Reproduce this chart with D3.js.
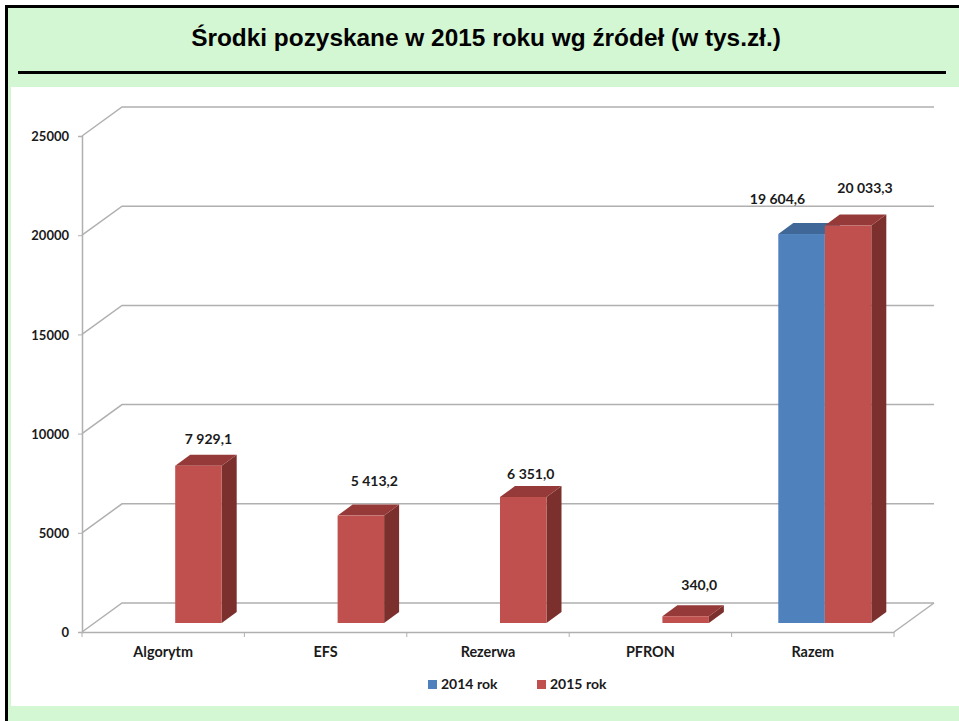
<!DOCTYPE html>
<html lang="pl">
<head>
<meta charset="utf-8">
<script src="https://cdn.jsdelivr.net/npm/d3@7/dist/d3.min.js"></script>
<style>
html,body{margin:0;padding:0;background:#fff;overflow:hidden}
svg{display:block}
.lbl{font-family:Lato,"Open Sans",sans-serif;font-weight:700;font-size:14px;fill:#1a1a1a}
.tickl{font-size:13px}
.catl{font-size:14.4px}
.title{font-family:"Liberation Sans",Arial,sans-serif;font-weight:700;font-size:24.4px;fill:#000}
</style>
</head>
<body>
<svg id="c" width="959" height="721"></svg>
<script>
const titleText = "Środki pozyskane w 2015 roku wg źródeł (w tys.zł.)";
const categories = ["Algorytm","EFS","Rezerwa","PFRON","Razem"];
const seriesNames = ["2014 rok","2015 rok"];
const values2014 = [null,null,null,null,19604.6];
const values2015 = [7929.1,5413.2,6351.0,340.0,20033.3];
const labels2014 = [null,null,null,null,"19 604,6"];
const labels2015 = ["7 929,1","5 413,2","6 351,0","340,0","20 033,3"];
const yTicks = [0,5000,10000,15000,20000,25000];

// Layout (separate from the data)
const plot = {left:82, right:894, bottom:632, top:136};
const wall = {dx:40, dy:-29};
const floorLift = 9, barW = 46.5, side = {dx:15, dy:-11}, catShift = 12;
const offs2014 = [null,null,null,null,{dx:-24,dy:-35}];
const offs2015 = [{dx:10,dy:-26},{dx:13.5,dy:-34},{dx:7.5,dy:-22},{dx:13.5,dy:-31},{dx:17,dy:-37}];
const colors = {
  2014:{front:"#4f81bd",top:"#3f6797",side:"#3a5f8b"},
  2015:{front:"#c0504d",top:"#953a38",side:"#7c302e"}
};

const svg = d3.select("#c");
const x = d3.scaleBand().domain(categories).range([plot.left,plot.right]);
const y = d3.scaleLinear().domain([0,25000]).range([plot.bottom,plot.top]);
const barBase = v => y(v) - floorLift;

// Panels
svg.append("rect").attr("x",5).attr("y",5).attr("width",954).attr("height",716).attr("fill","#000");
svg.append("rect").attr("x",8).attr("y",8).attr("width",951).attr("height",713).attr("fill","#d3f6d3");
svg.append("rect").attr("x",11).attr("y",87).attr("width",948).attr("height",619).attr("fill","#fff");
svg.append("rect").attr("x",18).attr("y",71).attr("width",928).attr("height",3).attr("fill","#000");
svg.append("text").attr("class","title").attr("x",486).attr("y",46).attr("text-anchor","middle").text(titleText);

// Walls and gridlines
const grid = svg.append("g").attr("fill","none").attr("stroke","#b0b0b0").attr("stroke-width",1.5);
yTicks.forEach(t=>{
  grid.append("path").attr("d",d3.line()([
    [plot.left,y(t)],[plot.left+wall.dx,y(t)+wall.dy],[plot.right+wall.dx,y(t)+wall.dy]
  ]));
});
grid.append("path").attr("d",d3.line()([
  [plot.right,plot.bottom],[plot.right+wall.dx,plot.bottom+wall.dy]
]));

// Axes
const yAxis = d3.axisLeft(y).tickValues(yTicks).tickSize(4).tickPadding(9).tickFormat(d3.format("d"));
const gy = svg.append("g").attr("transform",`translate(${plot.left},0)`).call(yAxis);
const xAxis = d3.axisBottom(x).tickSize(0).tickPadding(15);
const gx = svg.append("g").attr("transform",`translate(0,${plot.bottom})`).call(xAxis);
[gx,gy].forEach(g=>{
  g.selectAll(".domain").attr("stroke","#b0b0b0").attr("stroke-width",1.5);
  g.selectAll(".tick line").attr("stroke","#b0b0b0");
  g.selectAll("text").attr("fill",null);
});
gy.selectAll("text").attr("class","lbl tickl").attr("dy","0.36em");
gx.selectAll("text").attr("class","lbl catl");
svg.append("g").selectAll("line")
  .data([...categories.map(c=>x(c)),plot.right]).join("line")
  .attr("x1",d=>d).attr("x2",d=>d)
  .attr("y1",plot.bottom).attr("y2",plot.bottom+5)
  .attr("stroke","#b0b0b0");

// Bars
function drawBar(g,cat,val,slot,col){
  const x0 = x(cat)+x.bandwidth()/2+catShift+slot*barW;
  const x1 = x0+barW, yB = barBase(0), yT = yB-(y(0)-y(val));
  const line = d3.line();
  g.append("path").attr("fill",col.side).attr("d",line([[x1,yB],[x1+side.dx,yB+side.dy],[x1+side.dx,yT+side.dy],[x1,yT]])+"Z");
  g.append("path").attr("fill",col.top).attr("d",line([[x0,yT],[x0+side.dx,yT+side.dy],[x1+side.dx,yT+side.dy],[x1,yT]])+"Z");
  g.append("rect").attr("x",x0).attr("y",yT).attr("width",barW).attr("height",yB-yT).attr("fill",col.front);
}
const bars = svg.append("g");
categories.forEach((c,i)=>{
  if(values2014[i]!=null) drawBar(bars,c,values2014[i],-1,colors[2014]);
  if(values2015[i]!=null) drawBar(bars,c,values2015[i],0,colors[2015]);
});

// Data labels
function drawLabels(vals,labs,offs,slot){
  categories.forEach((c,i)=>{
    if(vals[i]==null) return;
    const cx = x(c)+x.bandwidth()/2+catShift+slot*barW+barW/2;
    svg.append("text").attr("class","lbl").attr("text-anchor","middle")
      .attr("x",cx+offs[i].dx).attr("y",barBase(0)-(y(0)-y(vals[i]))+offs[i].dy+4.5)
      .text(labs[i]);
  });
}
drawLabels(values2014,labels2014,offs2014,-1);
drawLabels(values2015,labels2015,offs2015,0);

// Legend
const legendX = [428,537];
seriesNames.forEach((n,i)=>{
  const col = i===0?colors[2014]:colors[2015];
  svg.append("rect").attr("x",legendX[i]).attr("y",680).attr("width",9).attr("height",9).attr("fill",col.front);
  svg.append("text").attr("class","lbl").attr("x",legendX[i]+13).attr("y",689).text(n);
});
</script>
</body>
</html>
